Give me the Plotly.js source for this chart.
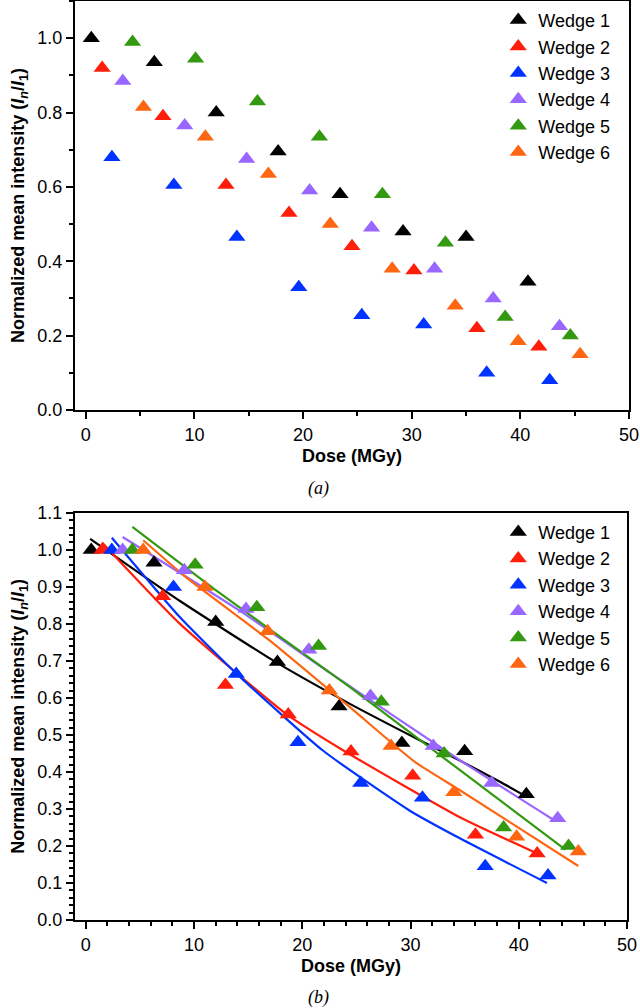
<!DOCTYPE html>
<html>
<head>
<meta charset="utf-8">
<script src="https://cdn.plot.ly/plotly-3.0.1.min.js"></script>
<style>
  html, body { margin: 0; padding: 0; background: #fff; }
  #grafico { width: 640px; height: 1008px; }
</style>
</head>
<body>
<div id="grafico"></div>
<script>
// dose (MGy) for each wedge
let dose1 = [0.5, 6.3, 12.0, 17.7, 23.4, 29.2, 35.0, 40.7];
let dose2 = [1.5, 7.1, 12.9, 18.7, 24.5, 30.2, 36.0, 41.7];
let dose3 = [2.4, 8.1, 13.9, 19.6, 25.4, 31.1, 36.9, 42.7];
let dose4 = [3.4, 9.1, 14.8, 20.6, 26.3, 32.1, 37.5, 43.6];
let dose5 = [4.3, 10.1, 15.8, 21.5, 27.3, 33.1, 38.6, 44.6];
let dose6 = [5.3, 11.0, 16.8, 22.5, 28.2, 34.0, 39.8, 45.5];

// panel (a) normalized intensity
let a1 = [1.0, 0.935, 0.80, 0.695, 0.58, 0.48, 0.465, 0.345];
let a2 = [0.92, 0.79, 0.605, 0.53, 0.44, 0.375, 0.22, 0.17];
let a3 = [0.68, 0.605, 0.465, 0.33, 0.255, 0.23, 0.10, 0.08];
let a4 = [0.885, 0.765, 0.675, 0.59, 0.49, 0.38, 0.30, 0.225];
let a5 = [0.99, 0.945, 0.83, 0.735, 0.58, 0.45, 0.25, 0.20];
let a6 = [0.815, 0.735, 0.635, 0.50, 0.38, 0.28, 0.185, 0.15];

// panel (b) normalized intensity
let b1 = [1.0, 0.965, 0.805, 0.697, 0.577, 0.478, 0.456, 0.34];
let b2 = [1.0, 0.875, 0.635, 0.555, 0.455, 0.39, 0.23, 0.18];
let b3 = [1.0, 0.9, 0.665, 0.48, 0.37, 0.33, 0.145, 0.12];
let b4 = [1.0, 0.945, 0.84, 0.73, 0.605, 0.47, 0.37, 0.275];
let b5 = [1.0, 0.96, 0.845, 0.74, 0.59, 0.45, 0.25, 0.20];
let b6 = [1.0, 0.9, 0.78, 0.62, 0.47, 0.345, 0.225, 0.185];

// fitted curves in panel (b)
let fit1x = [0.4, 8.7, 17.6, 24.4, 30.9, 34.6, 38.3, 40.6];
let fit1y = [1.03, 0.862, 0.696, 0.584, 0.485, 0.43, 0.373, 0.335];
let fit2x = [1.5, 8.7, 18.5, 23.8, 34.6, 41.4];
let fit2y = [1.02, 0.80, 0.557, 0.458, 0.277, 0.184];
let fit3x = [2.4, 8.7, 13.8, 21.9, 29.9, 34.6, 42.6];
let fit3y = [1.033, 0.818, 0.669, 0.458, 0.296, 0.22, 0.10];
let fit4x = [3.4, 14.2, 22.5, 34.6, 43.2];
let fit4y = [1.035, 0.836, 0.669, 0.431, 0.271];
let fit5x = [4.3, 12.1, 24.4, 34.6, 44.3];
let fit5y = [1.062, 0.889, 0.629, 0.404, 0.19];
let fit6x = [5.3, 9.3, 17.0, 24.4, 30.4, 34.6, 45.5];
let fit6y = [1.026, 0.925, 0.755, 0.575, 0.427, 0.35, 0.146];

let nombres = ['Wedge 1', 'Wedge 2', 'Wedge 3', 'Wedge 4', 'Wedge 5', 'Wedge 6'];
let colores = ['#000000', '#ff1e0a', '#0033ff', '#9966ff', '#339911', '#ff6611'];

let doses = [dose1, dose2, dose3, dose4, dose5, dose6];
let panelA = [a1, a2, a3, a4, a5, a6];
let panelB = [b1, b2, b3, b4, b5, b6];
let fitsX = [fit1x, fit2x, fit3x, fit4x, fit5x, fit6x];
let fitsY = [fit1y, fit2y, fit3y, fit4y, fit5y, fit6y];

let data = [];

for (let i = 0; i < 6; i++) {
    data.push({
        type: 'scatter', mode: 'markers',
        x: doses[i], y: panelA[i],
        xaxis: 'x', yaxis: 'y',
        name: nombres[i], legend: 'legend',
        marker: { symbol: 'triangle-up', size: 15, color: colores[i] }
    });
}

for (let i = 0; i < 6; i++) {
    data.push({
        type: 'scatter', mode: 'lines',
        x: fitsX[i], y: fitsY[i],
        xaxis: 'x2', yaxis: 'y2',
        showlegend: false, hoverinfo: 'skip',
        line: { color: colores[i], width: 2.2, shape: 'spline', smoothing: 0.5 }
    });
}

for (let i = 0; i < 6; i++) {
    data.push({
        type: 'scatter', mode: 'markers',
        x: doses[i], y: panelB[i],
        xaxis: 'x2', yaxis: 'y2',
        name: nombres[i], legend: 'legend2',
        marker: { symbol: 'triangle-up', size: 15, color: colores[i] }
    });
}

let fuente = 'Liberation Sans, Arial, sans-serif';
let tituloY = '<b>Normalized mean intensity (<i>I</i><sub><i>n</i></sub>/<i>I</i><sub>1</sub>)</b>';

let ejeBase = {
    showgrid: false, zeroline: false,
    showline: true, linecolor: '#000', linewidth: 2, mirror: true,
    ticks: 'outside', ticklen: 7, tickwidth: 2, tickcolor: '#000',
    tickfont: { family: fuente, size: 18, color: '#000' }
};

let layout = {
    width: 640, height: 1008,
    margin: { l: 75, r: 11, t: 1, b: 88 },
    paper_bgcolor: '#fff', plot_bgcolor: '#fff',
    font: { family: fuente, color: '#000' },
    xaxis: Object.assign({}, ejeBase, {
        anchor: 'y', domain: [0, 1], range: [-1, 50], dtick: 10,
        minor: { dtick: 5, ticks: 'outside', ticklen: 4, tickwidth: 2, tickcolor: '#000' },
        title: { text: '<b>Dose (MGy)</b>', font: { family: fuente, size: 18 }, standoff: 6 }
    }),
    yaxis: Object.assign({}, ejeBase, {
        anchor: 'x', domain: [0.555, 1], range: [0, 1.1], dtick: 0.2, tickformat: '.1f',
        minor: { dtick: 0.1, ticks: 'outside', ticklen: 4, tickwidth: 2, tickcolor: '#000' },
        title: { text: tituloY, font: { family: fuente, size: 18 }, standoff: 8 }
    }),
    xaxis2: Object.assign({}, ejeBase, {
        anchor: 'y2', domain: [0, 0.9964], range: [-1, 50], dtick: 10,
        minor: { dtick: 2, ticks: 'outside', ticklen: 4, tickwidth: 2, tickcolor: '#000' },
        title: { text: '<b>Dose (MGy)</b>', font: { family: fuente, size: 18 }, standoff: 6 }
    }),
    yaxis2: Object.assign({}, ejeBase, {
        anchor: 'x2', domain: [0, 0.443], range: [0, 1.1], dtick: 0.1, tickformat: '.1f',
        minor: { dtick: 0.02, ticks: 'outside', ticklen: 4, tickwidth: 2, tickcolor: '#000' },
        title: { text: tituloY, font: { family: fuente, size: 18 }, standoff: 8 }
    }),
    legend: {
        x: 0.764, y: 0.999, xanchor: 'left', yanchor: 'top',
        bgcolor: 'rgba(0,0,0,0)', borderwidth: 0,
        font: { family: fuente, size: 18, color: '#000' },
        tracegroupgap: 0
    },
    legend2: {
        x: 0.764, y: 0.442, xanchor: 'left', yanchor: 'top',
        bgcolor: 'rgba(0,0,0,0)', borderwidth: 0,
        font: { family: fuente, size: 18, color: '#000' },
        tracegroupgap: 0
    },
    annotations: [
        { text: '<i>(a)</i>', xref: 'paper', yref: 'paper', x: 0.44, y: 0.469,
          xanchor: 'center', yanchor: 'middle',
          showarrow: false, font: { family: 'Liberation Serif, Times New Roman, serif', size: 18 } },
        { text: '<i>(b)</i>', xref: 'paper', yref: 'paper', x: 0.44, y: -0.084,
          xanchor: 'center', yanchor: 'middle',
          showarrow: false, font: { family: 'Liberation Serif, Times New Roman, serif', size: 18 } }
    ]
};

let config = { responsive: false, displayModeBar: false, staticPlot: true };

Plotly.newPlot('grafico', data, layout, config);
</script>
</body>
</html>
